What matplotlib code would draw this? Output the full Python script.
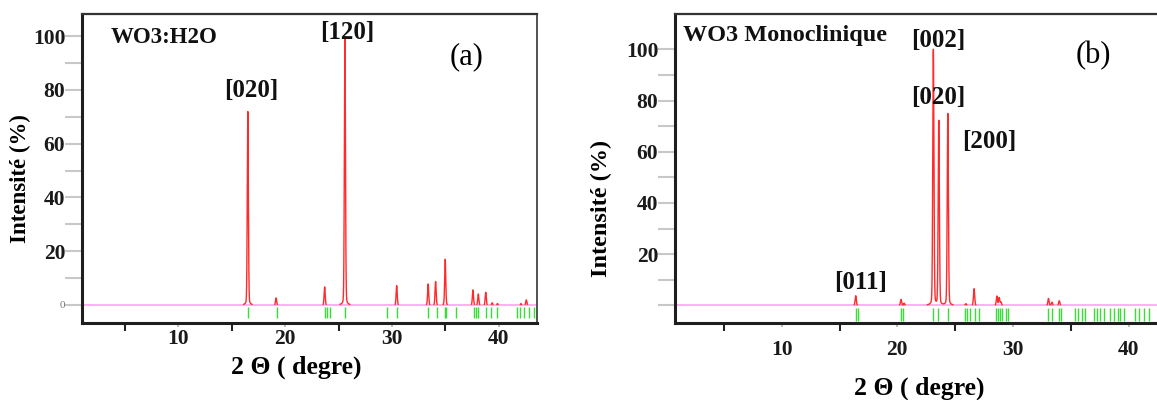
import numpy as np
import matplotlib
matplotlib.use("Agg")
import matplotlib.pyplot as plt

plt.rcParams['font.family'] = ['Liberation Serif', 'DejaVu Serif']

# --- panel (a) : WO3:H2O ---
a_peak_pos = [16.5, 19.15, 23.7, 25.6, 30.45, 33.4, 34.1, 35.0, 37.6, 38.1, 38.8, 39.4, 39.9, 42.1, 42.6]
a_peak_int = [72, 2.6, 6.7, 100, 7.2, 7.8, 8.7, 17, 5.6, 4.1, 4.7, 0.8, 0.5, 0.5, 1.9]
a_ref_pos = [16.56, 19.2, 23.7, 23.9, 24.2, 25.65, 29.5, 30.5, 33.4, 34.2, 35.0, 35.1, 36.0,
             37.7, 37.85, 38.1, 38.85, 39.3, 39.85, 41.7, 42.0, 42.4, 42.9, 43.3]
a_labels = ["[020]", "[120]"]
a_label_xy = [(16.78, 79.7), (25.8, 101.5)]

# --- panel (b) : WO3 monoclinique ---
b_peak_pos = [16.4, 20.32, 20.58, 23.11, 23.58, 24.36, 25.92, 26.63, 28.6, 28.8, 28.95, 33.06, 33.36, 33.99]
b_peak_int = [3.75, 2.3, 0.8, 100, 72, 75, 0.6, 6.5, 3.6, 3.0, 1.2, 2.7, 1.2, 1.8]
b_ref_pos = [16.40, 16.63, 20.32, 20.47, 23.11, 23.54, 24.36, 25.88, 26.05, 26.29, 26.71, 27.09,
             28.51, 28.69, 28.89, 29.08, 29.38, 29.55, 33.06, 33.36, 33.99, 34.10,
             35.37, 35.6, 35.95, 36.24, 36.96, 37.25, 37.54, 37.82,
             38.4, 38.69, 39.07, 39.27, 39.55, 40.56, 40.85, 41.28, 41.71]
b_labels = ["[002]", "[020]", "[200]", "[011]"]
b_label_xy = [(23.55, 103.4), (23.55, 81.0), (27.93, 63.9), (16.86, 9.1)]

xticks = [10, 20, 30, 40]
yticks = list(range(0, 101, 10))


def profile(x, pos, inten, fwhm=0.12, eta=0.15):
    y = np.zeros_like(x)
    for p, h in zip(pos, inten):
        d = (x - p) / (fwhm / 2)
        y += h * ((1 - eta) * np.exp(-np.log(2) * d ** 2) + eta / (1 + d ** 2))
    return y


def draw(ax, pos, inten, ref, xlim, ylim, ref_span, zero_label, xpad):
    x = np.linspace(xlim[0], xlim[1], 6000)
    y = profile(x, pos, inten)
    ax.plot(xlim, [0, 0], color='#ffaaf0', lw=1.3, zorder=1)
    ax.plot(x, np.ma.masked_less(y, 0.25), color='#ff2a2a', lw=1.0, zorder=2)
    ax.vlines(ref, ref_span[0], ref_span[1], color='#33e033', lw=1.0, zorder=2)
    ax.set_xlim(xlim)
    ax.set_ylim(ylim)

    ax.set_xticks(xticks)
    ax.set_xticks([5, 15, 25, 35], minor=True)
    ax.set_xticklabels([str(t) for t in xticks], fontsize=15.5, fontweight='bold', color='#1a1a1a')
    ax.tick_params(axis='x', which='major', direction='out', length=3, width=1.2, color='#b0b0b0', pad=xpad)
    ax.tick_params(axis='x', which='minor', direction='out', length=6, width=1.5, color='#222222')

    ax.set_yticks(yticks)
    labs = [str(t) if t % 20 == 0 and t > 0 else '' for t in yticks]
    labs[0] = '0' if zero_label else ''
    ax.set_yticklabels(labs, fontsize=15.5, fontweight='bold', color='#1a1a1a')
    ax.tick_params(axis='y', direction='out', length=12, width=1.5, color='#c8c8c8', pad=0)
    if zero_label:
        t0 = ax.get_yticklabels()[0]
        t0.set_fontsize(8)
        t0.set_color('#777777')
        t0.set_fontweight('normal')

    for s in ['left', 'bottom']:
        ax.spines[s].set_linewidth(2.2)
        ax.spines[s].set_color('#1e1e1e')
    ax.spines['top'].set_linewidth(1.6)
    ax.spines['top'].set_color('#333333')
    ax.spines['right'].set_linewidth(1.3)
    ax.spines['right'].set_color('#444444')


def axis_labels(ax, xl_xy, yl_xy, ysize):
    ax.set_xlabel("2 Θ ( degre)", fontsize=18.5, fontweight='bold', va='center')
    ax.set_ylabel("Intensité (%)", fontsize=ysize, fontweight='bold', va='center')
    ax.xaxis.set_label_coords(*xl_xy)
    ax.yaxis.set_label_coords(*yl_xy)


fig = plt.figure(figsize=(11.57, 4.0), dpi=100)

ax1 = fig.add_axes([0.0709, 0.1925, 0.3932, 0.7725])
draw(ax1, a_peak_pos, a_peak_int, a_ref_pos, (0.96, 43.6), (-6.7, 108.2), (-0.7, -4.8), True, 1)
ax1.text(0.062, 0.925, "WO3:H2O", transform=ax1.transAxes, fontsize=16.5, fontweight='bold',
         ha='left', va='center', color='#111111')
ax1.text(0.845, 0.862, "(a)", transform=ax1.transAxes, fontsize=22, ha='center', va='center')
for lab, (lx, ly) in zip(a_labels, a_label_xy):
    ax1.text(lx, ly, lab, fontsize=18, fontweight='bold', ha='center', va='center', color='#111111')
axis_labels(ax1, (0.47, -0.142), (-0.136, 0.469), 16.5)

ax2 = fig.add_axes([0.5834, 0.1925, 0.4192, 0.7725])
draw(ax2, b_peak_pos, b_peak_int, b_ref_pos, (0.78, 42.7), (-6.9, 113.8), (-1.2, -6.3), False, 9)
ax2.text(0.0165, 0.932, "WO3 Monoclinique", transform=ax2.transAxes, fontsize=17.5, fontweight='bold',
         ha='left', va='center', color='#111111')
ax2.text(0.862, 0.867, "(b)", transform=ax2.transAxes, fontsize=22, ha='center', va='center')
for lab, (lx, ly) in zip(b_labels, b_label_xy):
    ax2.text(lx, ly, lab, fontsize=18, fontweight='bold', ha='center', va='center', color='#111111')
axis_labels(ax2, (0.503, -0.21), (-0.152, 0.372), 17.5)

fig.savefig("out.png", dpi=100)
